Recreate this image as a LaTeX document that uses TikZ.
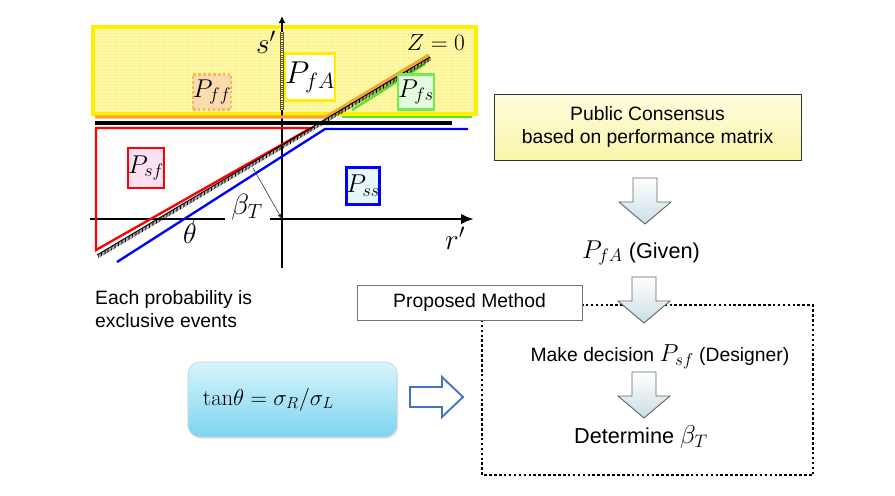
\RequirePackage{fix-cm}
\documentclass[tikz,border=0pt]{standalone}
\usepackage[no-math]{fontspec}
\setmainfont{Liberation Sans}
\usetikzlibrary{calc,positioning,decorations.pathreplacing,shadows,arrows.meta}

\definecolor{yelfill}{RGB}{255,250,172}
\definecolor{yelgrid}{RGB}{250,244,150}
\definecolor{yelline}{RGB}{255,238,0}
\definecolor{orgline}{RGB}{245,165,50}
\definecolor{grnline}{RGB}{80,230,40}
\definecolor{axisbrown}{RGB}{95,85,45}
\definecolor{arrowgrey}{RGB}{200,222,230}
\definecolor{methodblue}{RGB}{68,114,196}
\definecolor{tantop}{RGB}{215,245,252}
\definecolor{tanbot}{RGB}{125,212,240}
\definecolor{consbot}{RGB}{250,245,170}

\tikzset{
  pbox/.style={draw, line width=2.2pt, inner sep=0pt, font=\fontsize{22}{24}\selectfont},
  txt/.style={font=\fontsize{16.5}{20}\selectfont},
  bigtxt/.style={font=\fontsize{18.5}{22}\selectfont},
  axisline/.style={line width=2.4pt},
  arrfill/.style={draw=black!60, line width=0.8pt, top color=white, bottom color=arrowgrey},
  downarr/.pic={\draw[arrfill] (-12,0) -- (12,0) -- (12,24) -- (26,24) -- (0,46) -- (-26,24) -- (-12,24) -- cycle;}
}

\begin{document}
\begin{tikzpicture}[x=0.03cm,y=-0.03cm,inner sep=0.4mm]
\useasboundingbox (0,0) rectangle (895,495);

% region of P_fA
\fill[yelfill] (93,27) rectangle (476,114);
\foreach \gx in {96,99,...,474} \draw[yelgrid,line width=0.3pt] (\gx,27) -- (\gx,114);
\foreach \gy in {30,33,...,112} \draw[yelgrid,line width=0.3pt] (93,\gy) -- (476,\gy);
\draw[yelline,line width=4pt] (93,27) rectangle (476,114);

% axes
\coordinate (O) at (282,219);
\draw[axisline] (90,219) -- (225,219);
\draw[axisline,-{Latex[length=11pt,width=9pt]}] (270,219) -- (474,219);
\draw[axisline,-{Latex[length=6pt,width=6pt]}] (282,268) -- (282,16);
\draw[axisbrown,line width=3pt] (282,32) -- (282,110);
\draw[yelfill,line width=1.4pt,dash pattern=on 0.7pt off 0.9pt] (282,32) -- (282,110);

% limit lines
\draw[orgline,line width=2.8pt] (95,117) -- (326,117) -- (429,55);
\draw[line width=3pt] (95,123) -- (452,123);
\draw[red,line width=2pt] (96,128) -- (96,250) -- (311,128) -- cycle;
\draw[blue,line width=2pt] (117,262) -- (325,129) -- (468,129);
\draw[grnline,line width=2pt] (472,117) -- (342,117);
\draw[grnline,line width=2pt] (352,110) -- (425,64);

\coordinate (zlo) at (97,255);
\coordinate (zhi) at (430,57);
\draw[line width=0.8pt] (zhi) -- (zlo);
\draw[decorate,decoration={border,segment length=1.4pt,amplitude=3.4pt,angle=60},line width=0.55pt] (zhi) -- (zlo);

\coordinate (foot) at (253,168);
\draw[-latex,black!80,line width=0.5pt] (foot) -- (O);
\draw[line width=0.5pt] (194,219) arc (0:33:10);

% labels
\node (pfa) at (310,77) [pbox,draw=yelline,fill=white,minimum width=1.35cm,minimum height=1.4cm,font=\fontsize{27}{29}\selectfont] {$P_{fA}$};
\node (pff) at (212,92) [pbox,draw=orgline!80,dotted,fill=orgline!40,minimum width=0.9cm,minimum height=1.05cm] {$P_{ff}$};
\node (pfs) at (416,92) [pbox,draw=grnline!80,fill=grnline!15,minimum width=0.84cm,minimum height=1.05cm] {$P_{fs}$};
\node (psf) at (146,168) [pbox,draw=red,fill=magenta!12,minimum width=0.96cm,minimum height=1.2cm] {$P_{sf}$};
\node (pss) at (363,186) [pbox,draw=blue,fill=cyan!10,minimum width=0.9cm,minimum height=1.11cm] {$P_{ss}$};

\node (sp) at (266,42) [font=\fontsize{25}{27}\selectfont] {$s'$};
\node (rp) at (455,238) [font=\fontsize{25}{27}\selectfont] {$r'$};
\node (zeq) at (436,42) [font=\fontsize{20}{22}\selectfont] {$Z=0$};
\node (theta) at (190,234) [font=\fontsize{24}{26}\selectfont] {$\theta$};
\node (beta) at (247,207) [font=\fontsize{25}{27}\selectfont] {$\beta_T$};

\node (note) at (95,309) [anchor=west,align=left,txt,inner sep=0pt] {Each probability is\\exclusive events};

% flow on the right
\node (consensus) at (647.5,127) [draw=black!80,line width=0.8pt,top color=yelfill!40,bottom color=consbot,minimum width=9.21cm,minimum height=1.98cm,align=center,txt] {Public Consensus\\based on performance matrix};
\pic at (645,178) {downarr};
\node (given) at (641,253) [bigtxt] {{\fontsize{22}{24}\selectfont$P_{fA}$} (Given)};

\draw[line width=2.2pt,dotted] (482,305) rectangle (813,475);
\pic at (644,277) {downarr};
\node (proposed) at (469.5,302.5) [draw=black!55,line width=0.8pt,fill=white,minimum width=6.75cm,minimum height=1.05cm,txt] {Proposed Method};
\node (decision) at (660,357) [txt] {Make decision {\fontsize{21}{23}\selectfont$P_{sf}$} (Designer)};
\pic at (644,372) {downarr};
\node (determine) at (641,437) [bigtxt] {Determine {\fontsize{22}{24}\selectfont$\beta_T$}};

\node (tanbox) at (292.5,399.5) [draw=cyan!30!black!25,line width=0.6pt,rounded corners=0.36cm,top color=tantop,bottom color=tanbot,drop shadow={opacity=0.2,shadow xshift=1pt,shadow yshift=-1.5pt},minimum width=6.27cm,minimum height=2.25cm,inner xsep=0.45cm,text width=5.37cm,align=left,font=\fontsize{19.5}{22}\selectfont] {$\tan\!\theta = \sigma_R/\sigma_L$};
\draw[methodblue,line width=1.6pt,fill=white] (410,387) -- (442,387) -- (442,377) -- (463,397) -- (442,417) -- (442,407) -- (410,407) -- cycle;

\end{tikzpicture}
\end{document}
